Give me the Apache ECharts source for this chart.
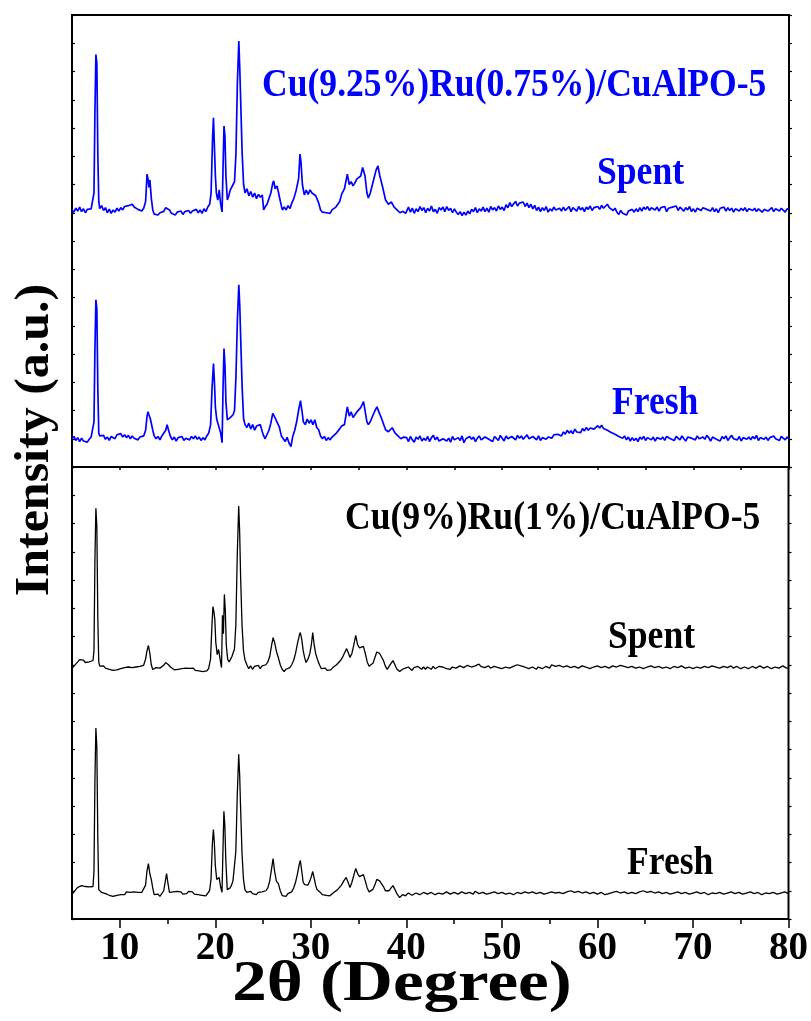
<!DOCTYPE html>
<html><head><meta charset="utf-8">
<script src="https://cdn.jsdelivr.net/npm/echarts@6/dist/echarts.min.js"></script>
<style>html,body{margin:0;padding:0;background:#fff}#c{width:811px;height:1021px}</style>
</head><body><div id="c"></div>
<script>
// ---- axis ticks / labels ----
const xMajorTicks = [10, 20, 30, 40, 50, 60, 70, 80];
const xMinorTicks = [15, 25, 35, 45, 55, 65, 75];
const xTickLabels = ['10', '20', '30', '40', '50', '60', '70', '80'];
const xTitle = '2θ (Degree)';
const yTitle = 'Intensity (a.u.)';
const topLabels = ['Cu(9.25%)Ru(0.75%)/CuAlPO-5', 'Spent', 'Fresh'];
const bottomLabels = ['Cu(9%)Ru(1%)/CuAlPO-5', 'Spent', 'Fresh'];
// vertical offsets of each pattern (a.u.)
const offsets = { topSpent: 910, topFresh: 100, botSpent: 890, botFresh: 90 };

// ---- XRD patterns: [2θ, intensity above own baseline (a.u.)] ----
const topSpent = [[5,0],[5.2,-8],[5.4,6],[5.6,-4],[5.8,10],[6,-6],[6.2,4],[6.4,-10],[6.6,2],[6.8,-5],[7,4],[7.2,10],[7.3,60],[7.4,350],[7.5,550],[7.6,520],[7.7,200],[7.8,30],[7.9,5],[8.1,15],[8.3,-2],[8.5,8],[8.7,-10],[8.9,3],[9.1,-12],[9.3,0],[9.5,-8],[9.7,6],[9.9,-4],[10.1,8],[10.3,0],[10.5,12],[10.7,5],[10.9,15],[11.1,8],[11.3,20],[11.5,10],[11.7,14],[11.9,2],[12.1,8],[12.3,-4],[12.5,6],[12.7,30],[12.85,127],[12.95,110],[13.05,80],[13.15,106],[13.3,40],[13.45,0],[13.6,-15],[13.8,-8],[14,-18],[14.2,-10],[14.4,-15],[14.6,-5],[14.8,8],[15,14],[15.2,0],[15.4,-12],[15.6,-6],[15.8,-18],[16,-8],[16.2,-14],[16.4,-4],[16.6,-16],[16.8,-6],[17,-10],[17.2,-2],[17.4,-12],[17.6,-4],[17.8,-8],[18,2],[18.2,-10],[18.4,0],[18.6,-12],[18.8,4],[19,-6],[19.2,10],[19.4,20],[19.55,60],[19.7,250],[19.8,326],[19.9,220],[20,120],[20.1,60],[20.25,35],[20.4,71],[20.55,20],[20.7,-7],[20.8,150],[20.9,297],[21,260],[21.1,120],[21.25,35],[21.4,50],[21.55,70],[21.7,65],[21.85,90],[22,100],[22.15,200],[22.3,450],[22.45,598],[22.55,500],[22.65,380],[22.8,200],[22.95,90],[23.1,60],[23.3,75],[23.5,50],[23.7,65],[23.9,45],[24.1,60],[24.3,40],[24.5,55],[24.7,45],[24.9,53],[25.05,0],[25.2,10],[25.4,20],[25.6,40],[25.8,60],[26,95],[26.1,103],[26.25,75],[26.45,85],[26.6,81],[26.8,30],[27,0],[27.2,10],[27.4,0],[27.6,15],[27.8,5],[28,25],[28.2,40],[28.45,70],[28.7,110],[28.85,198],[28.95,170],[29.1,90],[29.3,53],[29.5,70],[29.7,55],[29.9,71],[30.1,60],[30.3,65],[30.5,50],[30.6,53],[30.8,25],[31,0],[31.2,-8],[31.4,-2],[31.6,-10],[31.8,-4],[32,-12],[32.2,0],[32.4,5],[32.6,10],[32.8,20],[33,30],[33.2,55],[33.5,75],[33.8,127],[34,90],[34.2,100],[34.4,85],[34.6,96],[34.8,110],[35,105],[35.2,120],[35.4,150],[35.5,156],[35.65,120],[35.85,60],[36,42],[36.2,60],[36.5,100],[36.8,140],[37,156],[37.2,120],[37.5,80],[37.8,35],[38.1,20],[38.4,28],[38.7,10],[39,0],[39.3,-10],[39.6,-5],[39.9,-12],
[40,-5],[40.2,10],[40.4,-8],[40.6,6],[40.8,-12],[41,4],[41.2,-6],[41.4,12],[41.6,-2],[41.8,8],
[42,-10],[42.2,6],[42.4,-4],[42.6,14],[42.8,-6],[43,2],[43.2,-12],[43.4,8],[43.6,0],[43.8,10],
[44,-6],[44.2,12],[44.4,-2],[44.6,6],[44.8,-10],[45,4],[45.2,-8],[45.4,-16],[45.6,-6],[45.8,-20],
[46,-8],[46.2,-18],[46.4,-4],[46.6,-14],[46.8,2],[47,-6],[47.2,8],[47.4,-10],[47.6,4],[47.8,-4],
[48,10],[48.2,-6],[48.4,6],[48.6,-8],[48.8,12],[49,0],[49.2,8],[49.4,-4],[49.6,14],[49.8,2],
[50,10],[50.2,-2],[50.4,18],[50.6,8],[50.8,26],[51,12],[51.2,22],[51.4,30],[51.6,14],[51.8,24],
[52,18],[52.2,28],[52.4,12],[52.6,24],[52.8,8],[53,20],[53.2,4],[53.4,16],[53.6,-2],[53.8,10],
[54,-6],[54.2,8],[54.4,-2],[54.6,12],[54.8,-8],[55,4],[55.2,-4],[55.4,10],[55.6,0],[55.8,-6],
[56,6],[56.2,-4],[56.4,10],[56.6,-2],[56.8,4],[57,12],[57.2,-6],[57.4,8],[57.6,2],[57.8,-4],
[58,12],[58.2,0],[58.4,8],[58.6,-6],[58.8,10],[59,2],[59.2,14],[59.4,-2],[59.6,8],[59.8,4],
[60,12],[60.2,2],[60.4,16],[60.6,6],[60.8,10],[61,20],[61.2,8],[61.4,14],[61.6,-2],[61.8,6],
[62,-8],[62.2,-16],[62.4,-2],[62.6,-12],[62.8,-6],[63,-18],[63.2,-4],[63.4,-10],[63.6,2],[63.8,-8],
[64,4],[64.2,-6],[64.4,8],[64.6,-4],[64.8,10],[65,2],[65.2,12],[65.4,-2],[65.6,8],[65.8,14],
[66,0],[66.2,10],[66.4,-4],[66.6,8],[66.8,2],[67,12],[67.2,-6],[67.4,6],[67.6,0],[67.8,10],
[68,4],[68.2,14],[68.4,-2],[68.6,10],[68.8,6],[69,-4],[69.2,8],[69.4,0],[69.6,12],[69.8,-6],
[70,4],[70.2,-8],[70.4,6],[70.6,10],[70.8,-2],[71,8],[71.2,14],[71.4,2],[71.6,6],[71.8,-4],
[72,8],[72.2,-6],[72.4,4],[72.6,-10],[72.8,6],[73,0],[73.2,10],[73.4,-4],[73.6,8],[73.8,-2],
[74,6],[74.2,-8],[74.4,4],[74.6,10],[74.8,-4],[75,6],[75.2,-2],[75.4,8],[75.6,-6],[75.8,4],
[76,10],[76.2,-2],[76.4,6],[76.6,-6],[76.8,4],[77,8],[77.2,-8],[77.4,2],[77.6,6],[77.8,-4],
[78,-2],[78.2,8],[78.4,-6],[78.6,4],[78.8,10],[79,-4],[79.2,6],[79.4,0],[79.6,-8],[79.8,4],[80,2]];

const topFresh = [[5,0],[5.2,8],[5.4,-6],[5.6,4],[5.8,-10],[6,2],[6.2,-8],[6.4,-4],[6.6,-12],[6.8,-2],[7,6],[7.2,10],[7.3,60],[7.4,320],[7.5,492],[7.6,460],[7.7,180],[7.8,20],[7.9,10],[8.1,4],[8.3,12],[8.5,-2],[8.7,6],[8.9,-6],[9.1,8],[9.3,10],[9.5,0],[9.7,14],[9.9,8],[10.1,18],[10.3,6],[10.5,14],[10.7,4],[10.9,12],[11.1,0],[11.3,10],[11.5,2],[11.7,8],[11.9,-4],[12.1,6],[12.3,0],[12.5,10],[12.7,30],[12.85,80],[12.95,96],[13.05,85],[13.2,70],[13.3,67],[13.45,30],[13.6,10],[13.8,0],[14,8],[14.2,-4],[14.4,10],[14.6,6],[14.8,30],[14.95,50],[15.1,30],[15.3,8],[15.5,-4],[15.7,6],[15.9,-8],[16.1,4],[16.3,-2],[16.5,8],[16.7,-6],[16.9,2],[17.1,6],[17.3,-4],[17.5,8],[17.7,0],[17.9,10],[18.1,-2],[18.3,6],[18.5,-6],[18.7,4],[18.9,-4],[19.1,10],[19.3,20],[19.5,50],[19.65,180],[19.8,266],[19.9,200],[20,110],[20.15,67],[20.3,50],[20.4,57],[20.55,20],[20.7,-14],[20.8,180],[20.9,319],[21,260],[21.1,130],[21.25,67],[21.4,60],[21.55,75],[21.7,70],[21.85,85],[22,100],[22.15,220],[22.3,420],[22.45,545],[22.55,470],[22.65,350],[22.8,180],[22.95,70],[23.1,50],[23.3,40],[23.5,55],[23.7,35],[23.9,50],[24.1,30],[24.3,45],[24.5,40],[24.7,50],[24.9,25],[25.05,10],[25.2,0],[25.4,15],[25.6,30],[25.8,55],[26,90],[26.1,96],[26.3,70],[26.5,67],[26.7,40],[26.9,10],[27.1,0],[27.3,-10],[27.5,5],[27.7,-15],[27.9,-28],[28.1,10],[28.3,30],[28.5,60],[28.7,100],[28.9,135],[29.05,100],[29.2,60],[29.4,50],[29.6,70],[29.8,55],[30,67],[30.2,50],[30.4,67],[30.6,40],[30.8,32],[31,10],[31.2,0],[31.4,8],[31.6,-6],[31.8,4],[32,-4],[32.2,6],[32.4,10],[32.6,18],[32.8,25],[33,35],[33.2,45],[33.5,50],[33.8,113],[34,80],[34.2,95],[34.4,75],[34.6,85],[34.8,95],[35,90],[35.2,110],[35.5,131],[35.7,90],[35.85,60],[36,50],[36.2,60],[36.5,85],[36.7,100],[36.9,113],[37.1,95],[37.4,70],[37.8,32],[38.1,25],[38.5,39],[38.8,20],[39.1,10],[39.4,0],[39.7,6],
[40,4],[40.2,-10],[40.4,8],[40.6,-4],[40.8,-12],[41,6],[41.2,-2],[41.4,10],[41.6,-8],[41.8,2],
[42,-6],[42.2,8],[42.4,-10],[42.6,4],[42.8,12],[43,-4],[43.2,6],[43.4,-8],[43.6,-14],[43.8,0],
[44,6],[44.2,-8],[44.4,2],[44.6,-12],[44.8,8],[45,-4],[45.2,-10],[45.4,4],[45.6,-6],[45.8,10],
[46,-14],[46.2,0],[46.4,-6],[46.6,8],[46.8,-2],[47,6],[47.2,-10],[47.4,2],[47.6,10],[47.8,-4],
[48,-8],[48.2,6],[48.4,10],[48.6,-2],[48.8,4],[49,-10],[49.2,8],[49.4,2],[49.6,-6],[49.8,12],
[50,2],[50.2,-8],[50.4,10],[50.6,0],[50.8,-6],[51,8],[51.2,4],[51.4,-4],[51.6,12],[51.8,2],
[52,10],[52.2,-2],[52.4,6],[52.6,14],[52.8,0],[53,-6],[53.2,8],[53.4,2],[53.6,-4],[53.8,10],
[54,-6],[54.2,4],[54.4,10],[54.6,-2],[54.8,6],[55,12],[55.2,2],[55.4,14],[55.6,8],[55.8,16],
[56,20],[56.2,10],[56.4,24],[56.6,16],[56.8,30],[57,20],[57.2,28],[57.4,18],[57.6,34],[57.8,24],
[58,30],[58.2,22],[58.4,36],[58.6,28],[58.8,40],[59,30],[59.2,38],[59.4,44],[59.6,34],[59.8,40],
[60,46],[60.2,38],[60.4,48],[60.6,36],[60.8,42],[61,30],[61.2,34],[61.4,22],[61.6,28],[61.8,16],
[62,20],[62.2,8],[62.4,14],[62.6,2],[62.8,10],[63,-4],[63.2,6],[63.4,-8],[63.6,4],[63.8,-6],
[64,2],[64.2,-10],[64.4,6],[64.6,-2],[64.8,8],[65,-6],[65.2,4],[65.4,10],[65.6,-4],[65.8,6],
[66,-8],[66.2,4],[66.4,10],[66.6,-2],[66.8,6],[67,-6],[67.2,8],[67.4,14],[67.6,0],[67.8,6],
[68,-6],[68.2,8],[68.4,2],[68.6,-4],[68.8,10],[69,0],[69.2,-8],[69.4,6],[69.6,12],[69.8,2],
[70,8],[70.2,-4],[70.4,10],[70.6,0],[70.8,-6],[71,6],[71.2,-2],[71.4,12],[71.6,4],[71.8,-8],
[72,6],[72.2,12],[72.4,-2],[72.6,4],[72.8,-8],[73,8],[73.2,0],[73.4,10],[73.6,-6],[73.8,4],
[74,12],[74.2,0],[74.4,6],[74.6,-4],[74.8,8],[75,-8],[75.2,4],[75.4,10],[75.6,-2],[75.8,6],
[76,-4],[76.2,8],[76.4,0],[76.6,12],[76.8,-6],[77,4],[77.2,8],[77.4,-2],[77.6,6],[77.8,-6],
[78,4],[78.2,-2],[78.4,10],[78.6,0],[78.8,6],[79,-6],[79.2,8],[79.4,2],[79.6,-4],[79.8,6],[80,-2]];

const botSpent = [[5,-4],[5.2,5],[5.4,12],[5.6,20],[5.8,28],[6,22],[6.2,26],[6.4,18],[6.6,24],[6.8,20],[7,22],[7.2,25],[7.3,60],[7.4,380],[7.5,564],[7.6,500],[7.7,180],[7.8,20],[7.9,5],[8.1,2],[8.3,6],[8.5,-2],[8.7,4],[8.9,-6],[9.1,-4],[9.3,-10],[9.5,-14],[9.7,-8],[9.9,-12],[10.1,-4],[10.3,-8],[10.5,0],[10.7,-6],[10.9,2],[11.1,-4],[11.3,0],[11.5,-6],[11.7,2],[11.9,-2],[12.1,4],[12.3,2],[12.5,8],[12.7,30],[12.85,60],[13,78],[13.15,50],[13.3,10],[13.45,-7],[13.6,-4],[13.8,0],[14,-6],[14.2,-2],[14.4,2],[14.6,8],[14.8,18],[14.95,21],[15.1,10],[15.3,2],[15.5,-2],[15.7,-8],[15.9,-2],[16.1,-6],[16.3,0],[16.5,-4],[16.7,-10],[16.9,-2],[17.1,-6],[17.3,-3],[17.5,-8],[17.7,-2],[17.9,-10],[18.1,-4],[18.3,-12],[18.5,-6],[18.7,-14],[18.9,-8],[19.1,-12],[19.3,-4],[19.5,30],[19.65,150],[19.75,216],[19.85,199],[19.95,170],[20.05,90],[20.2,46],[20.35,64],[20.5,30],[20.65,0],[20.75,185],[20.85,120],[20.95,259],[21.05,200],[21.15,80],[21.3,28],[21.45,20],[21.6,30],[21.75,40],[21.9,55],[22,64],[22.15,150],[22.3,400],[22.45,572],[22.55,480],[22.65,320],[22.8,150],[22.95,60],[23.1,28],[23.3,10],[23.5,-4],[23.7,6],[23.9,-6],[24.1,4],[24.3,-2],[24.5,8],[24.7,-4],[24.9,6],[25.1,2],[25.3,10],[25.5,20],[25.7,40],[25.9,80],[26.05,106],[26.2,90],[26.4,57],[26.6,35],[26.8,10],[27,-6],[27.2,-14],[27.4,-6],[27.6,-10],[27.8,0],[28,10],[28.2,25],[28.4,50],[28.6,85],[28.8,115],[28.9,124],[29.05,100],[29.2,60],[29.35,35],[29.5,18],[29.7,30],[29.9,50],[30.05,80],[30.2,124],[30.35,80],[30.5,50],[30.7,28],[30.9,10],[31.1,-4],[31.3,-8],[31.5,-2],[31.7,-10],[31.9,-4],[32.1,-8],[32.3,0],[32.5,4],[32.7,10],[32.9,15],[33.1,25],[33.3,35],[33.5,50],[33.75,67],[33.95,50],[34.1,36],[34.3,50],[34.5,80],[34.7,114],[34.9,80],[35.1,70],[35.3,68],[35.5,75],[35.7,50],[35.9,20],[36.1,5],[36.3,0],[36.5,15],[36.7,35],[36.9,55],[37.05,57],[37.2,50],[37.4,46],[37.6,25],[37.8,5],[38,-7],[38.2,5],[38.4,15],[38.6,25],[38.8,10],[39,-5],[39.3,-14],[39.6,-6],[39.9,-2],
[40,-8],[40.2,2],[40.4,-4],[40.6,-10],[40.8,0],[41,-4],[41.2,4],[41.4,-2],[41.6,-6],[41.8,2],
[42,-6],[42.2,2],[42.4,0],[42.6,-6],[42.8,4],[43,-4],[43.2,-2],[43.4,4],[43.6,8],[43.8,2],
[44,2],[44.2,-4],[44.4,0],[44.6,-6],[44.8,2],[45,4],[45.2,-2],[45.4,2],[45.6,6],[45.8,0],
[46,0],[46.2,6],[46.4,8],[46.6,2],[46.8,2],[47,6],[47.2,6],[47.4,10],[47.6,12],[47.8,4],
[48,4],[48.2,0],[48.4,2],[48.6,6],[48.8,-2],[49,4],[49.2,4],[49.4,-2],[49.6,0],[49.8,6],
[50,-4],[50.2,2],[50.4,2],[50.6,-4],[50.8,-2],[51,4],[51.2,4],[51.4,8],[51.6,10],[51.8,4],
[52,6],[52.2,0],[52.4,2],[52.6,6],[52.8,-4],[53,2],[53.2,2],[53.4,-4],[53.6,-6],[53.8,2],
[54,0],[54.2,-4],[54.4,-2],[54.6,4],[54.8,4],[55,-2],[55.2,10],[55.4,4],[55.6,4],[55.8,8],
[56,8],[56.2,2],[56.4,2],[56.6,6],[56.8,6],[57,0],[57.2,0],[57.4,6],[57.6,4],[57.8,-2],
[58,-2],[58.2,4],[58.4,6],[58.6,0],[58.8,2],[59,6],[59.2,-4],[59.4,2],[59.6,2],[59.8,-2],
[60,6],[60.2,0],[60.4,0],[60.6,4],[60.8,4],[61,-2],[61.2,-2],[61.4,4],[61.6,6],[61.8,0],
[62,2],[62.2,6],[62.4,8],[62.6,2],[62.8,4],[63,-2],[63.2,0],[63.4,6],[63.6,4],[63.8,-2],
[64,-2],[64.2,4],[64.4,2],[64.6,-4],[64.8,-4],[65,2],[65.2,2],[65.4,-2],[65.6,6],[65.8,2],
[66,0],[66.2,4],[66.4,4],[66.6,-2],[66.8,-2],[67,4],[67.2,2],[67.4,-4],[67.6,-4],[67.8,2],
[68,4],[68.2,-2],[68.4,0],[68.6,4],[68.8,6],[69,0],[69.2,-2],[69.4,4],[69.6,2],[69.8,-4],
[70,-4],[70.2,2],[70.4,2],[70.6,-4],[70.8,-2],[71,4],[71.2,4],[71.4,-2],[71.6,0],[71.8,6],
[72,6],[72.2,0],[72.4,2],[72.6,-4],[72.8,-2],[73,4],[73.2,4],[73.4,-2],[73.6,0],[73.8,6],
[74,6],[74.2,-2],[74.4,-2],[74.6,4],[74.8,2],[75,-4],[75.2,-4],[75.4,2],[75.6,2],[75.8,-4],
[76,-2],[76.2,4],[76.4,4],[76.6,-2],[76.8,0],[77,6],[77.2,4],[77.4,-2],[77.6,-2],[77.8,4],
[78,2],[78.2,-4],[78.4,-4],[78.6,2],[78.8,2],[79,-2],[79.2,0],[79.4,6],[79.6,4],[79.8,-2],[80,-2]];

const botFresh = [[5,-4],[5.2,6],[5.4,14],[5.6,22],[5.8,26],[6,28],[6.2,22],[6.4,25],[6.6,18],[6.8,24],[7,20],[7.2,25],[7.3,80],[7.4,400],[7.5,586],[7.6,520],[7.7,200],[7.8,14],[7.9,8],[8.1,4],[8.3,8],[8.5,0],[8.7,4],[8.9,-6],[9.1,-2],[9.3,-10],[9.5,-14],[9.7,-6],[9.9,-10],[10.1,-4],[10.3,2],[10.5,-4],[10.7,6],[10.9,0],[11.1,4],[11.3,-2],[11.5,6],[11.7,0],[11.9,4],[12.1,-2],[12.3,4],[12.5,8],[12.7,30],[12.85,80],[13,106],[13.15,70],[13.3,50],[13.45,20],[13.6,-4],[13.8,-8],[14,-2],[14.2,-10],[14.4,-4],[14.6,10],[14.75,40],[14.9,71],[15.05,35],[15.2,4],[15.4,-2],[15.6,6],[15.8,0],[16,8],[16.2,2],[16.4,6],[16.6,-2],[16.8,4],[17,0],[17.2,8],[17.4,2],[17.6,6],[17.8,-2],[18,4],[18.2,-4],[18.4,2],[18.6,-6],[18.8,0],[19,-8],[19.2,-2],[19.4,10],[19.55,50],[19.7,180],[19.8,227],[19.9,180],[20,100],[20.15,50],[20.3,55],[20.4,57],[20.55,25],[20.7,4],[20.8,150],[20.9,291],[21,240],[21.1,120],[21.25,14],[21.4,10],[21.55,20],[21.7,30],[21.85,45],[22,50],[22.15,150],[22.3,350],[22.45,493],[22.55,420],[22.65,300],[22.8,140],[22.95,50],[23.1,14],[23.3,4],[23.5,-2],[23.7,8],[23.9,0],[24.1,6],[24.3,-4],[24.5,4],[24.7,-2],[24.9,6],[25.1,2],[25.3,10],[25.5,20],[25.7,45],[25.9,90],[26.05,124],[26.2,80],[26.4,43],[26.6,35],[26.8,10],[27,-7],[27.2,-2],[27.4,-10],[27.6,0],[27.8,-4],[28,6],[28.2,20],[28.4,40],[28.6,70],[28.8,105],[28.9,117],[29.05,80],[29.2,40],[29.35,32],[29.5,35],[29.7,30],[29.9,45],[30.05,60],[30.2,78],[30.35,55],[30.5,30],[30.65,14],[30.8,20],[31,4],[31.2,-4],[31.4,2],[31.6,-6],[31.8,0],[32,-8],[32.2,-2],[32.4,4],[32.6,8],[32.8,14],[33,20],[33.2,30],[33.45,45],[33.7,57],[33.9,40],[34.1,21],[34.3,40],[34.5,65],[34.7,89],[34.9,70],[35.1,60],[35.3,62],[35.5,67],[35.7,45],[35.9,20],[36.1,6],[36.3,4],[36.5,15],[36.7,30],[36.9,50],[37,53],[37.2,45],[37.4,39],[37.6,25],[37.8,10],[38,7],[38.2,10],[38.4,20],[38.6,28],[38.8,15],[39,0],[39.3,-14],[39.6,-4],[39.9,-8],
[40,-6],[40.2,2],[40.4,0],[40.6,-6],[40.8,-8],[41,2],[41.2,2],[41.4,-4],[41.6,-4],[41.8,4],
[42,4],[42.2,-2],[42.4,-2],[42.6,4],[42.8,2],[43,-4],[43.2,-6],[43.4,2],[43.6,4],[43.8,-2],
[44,0],[44.2,6],[44.4,6],[44.6,-2],[44.8,-2],[45,4],[45.2,4],[45.4,-2],[45.6,0],[45.8,6],
[46,6],[46.2,0],[46.4,-4],[46.6,4],[46.8,2],[47,-2],[47.2,8],[47.4,2],[47.6,0],[47.8,4],
[48,4],[48.2,-2],[48.4,-2],[48.6,4],[48.8,2],[49,-2],[49.2,6],[49.4,0],[49.6,0],[49.8,6],
[50,4],[50.2,-2],[50.4,-2],[50.6,4],[50.8,2],[51,-4],[51.2,-4],[51.4,2],[51.6,4],[51.8,-2],
[52,0],[52.2,4],[52.4,6],[52.6,0],[52.8,2],[53,6],[53.2,6],[53.4,0],[53.6,0],[53.8,4],
[54,4],[54.2,-2],[54.4,-2],[54.6,4],[54.8,2],[55,-2],[55.2,6],[55.4,2],[55.6,2],[55.8,6],
[56,4],[56.2,0],[56.4,0],[56.6,6],[56.8,6],[57,0],[57.2,10],[57.4,4],[57.6,4],[57.8,10],
[58,8],[58.2,2],[58.4,2],[58.6,6],[58.8,6],[59,0],[59.2,0],[59.4,6],[59.6,4],[59.8,-2],
[60,-2],[60.2,4],[60.4,4],[60.6,-2],[60.8,-4],[61,2],[61.2,0],[61.4,-4],[61.6,4],[61.8,0],
[62,8],[62.2,2],[62.4,2],[62.6,6],[62.8,6],[63,0],[63.2,0],[63.4,6],[63.6,4],[63.8,-2],
[64,0],[64.2,6],[64.4,6],[64.6,2],[64.8,10],[65,4],[65.2,4],[65.4,10],[65.6,8],[65.8,2],
[66,2],[66.2,6],[66.4,6],[66.6,0],[66.8,0],[67,6],[67.2,4],[67.4,-2],[67.6,-2],[67.8,4],
[68,2],[68.2,-2],[68.4,6],[68.6,0],[68.8,0],[69,6],[69.2,4],[69.4,-2],[69.6,-2],[69.8,4],
[70,2],[70.2,-2],[70.4,6],[70.6,0],[70.8,0],[71,6],[71.2,4],[71.4,-2],[71.6,-4],[71.8,2],
[72,2],[72.2,-4],[72.4,0],[72.6,4],[72.8,4],[73,-2],[73.2,-2],[73.4,4],[73.6,2],[73.8,-4],
[74,6],[74.2,0],[74.4,0],[74.6,6],[74.8,4],[75,-2],[75.2,-2],[75.4,4],[75.6,2],[75.8,-4],
[76,6],[76.2,0],[76.4,0],[76.6,6],[76.8,4],[77,-2],[77.2,-4],[77.4,2],[77.6,2],[77.8,-4],
[78,0],[78.2,4],[78.4,4],[78.6,-2],[78.8,-2],[79,4],[79.2,2],[79.4,-4],[79.6,6],[79.8,0],[80,0]];

// ---- build chart ----
const FONT = "'Liberation Serif', 'Times New Roman', serif";
const BLUE = '#0000FF';
const shift = (arr, off) => arr.map(p => [p[0], p[1] + off]);

const G = [{ left: 72, top: 15, width: 717, height: 452 },
           { left: 72, top: 467, width: 717, height: 452 }];

function xAx(grid, pos, ticks, len, inside, labels) {
  return {
    type: 'value', gridIndex: grid, position: pos, min: 5, max: 80,
    axisLine: { show: false },
    splitLine: { show: false },
    axisTick: { show: true, customValues: ticks, length: len, inside: inside,
                lineStyle: { color: '#000', width: 1.5 } },
    axisLabel: labels ? {
      show: true, customValues: xMajorTicks, margin: 10,
      formatter: v => xTickLabels[xMajorTicks.indexOf(v)] || '',
      color: '#000', fontFamily: FONT, fontWeight: 'bold', fontSize: 39
    } : { show: false }
  };
}
function yAx(grid, pos, inside) {
  return {
    type: 'value', gridIndex: grid, position: pos, min: 0, max: 1600, interval: 100,
    axisLine: { show: false }, splitLine: { show: false },
    axisLabel: { show: false },
    axisTick: { show: true, length: 3, inside: inside, lineStyle: { color: '#000', width: 1.2 } }
  };
}

const option = {
  animation: false,
  backgroundColor: '#fff',
  grid: G.map(g => Object.assign({ show: true, borderColor: '#000', borderWidth: 2,
                                   backgroundColor: 'transparent', containLabel: false }, g)),
  xAxis: [
    xAx(0, 'bottom', xMajorTicks.concat(xMinorTicks), 3, false, false),
    xAx(0, 'top', xMajorTicks.concat(xMinorTicks), 3, true, false),
    xAx(1, 'bottom', xMajorTicks, 9, false, true),
    xAx(1, 'bottom', xMinorTicks, 5, false, false)
  ],
  yAxis: [yAx(0, 'left', true), yAx(0, 'right', false), yAx(1, 'left', true), yAx(1, 'right', false)],
  series: [
    { type: 'line', xAxisIndex: 0, yAxisIndex: 0, data: shift(topSpent, offsets.topSpent) },
    { type: 'line', xAxisIndex: 0, yAxisIndex: 0, data: shift(topFresh, offsets.topFresh) },
    { type: 'line', xAxisIndex: 2, yAxisIndex: 2, data: shift(botSpent, offsets.botSpent) },
    { type: 'line', xAxisIndex: 2, yAxisIndex: 2, data: shift(botFresh, offsets.botFresh) }
  ].map((s, i) => Object.assign(s, {
    showSymbol: false, symbol: 'none', silent: true,
    lineStyle: { color: i < 2 ? BLUE : '#000', width: i < 2 ? 1.7 : 1.3 }
  })),
  graphic: [
    { type: 'text', x: 262, y: 86, scaleX: 0.89, style: { text: topLabels[0], fill: BLUE, font: `bold 40px ${FONT}`, textAlign: 'left', textVerticalAlign: 'middle' } },
    { type: 'text', x: 597, y: 174, scaleX: 0.89, style: { text: topLabels[1], fill: BLUE, font: `bold 40px ${FONT}`, textAlign: 'left', textVerticalAlign: 'middle' } },
    { type: 'text', x: 612, y: 404, scaleX: 0.89, style: { text: topLabels[2], fill: BLUE, font: `bold 40px ${FONT}`, textAlign: 'left', textVerticalAlign: 'middle' } },
    { type: 'text', x: 345, y: 519, scaleX: 0.89, style: { text: bottomLabels[0], fill: '#000', font: `bold 40px ${FONT}`, textAlign: 'left', textVerticalAlign: 'middle' } },
    { type: 'text', x: 608, y: 638, scaleX: 0.89, style: { text: bottomLabels[1], fill: '#000', font: `bold 40px ${FONT}`, textAlign: 'left', textVerticalAlign: 'middle' } },
    { type: 'text', x: 627, y: 864, scaleX: 0.89, style: { text: bottomLabels[2], fill: '#000', font: `bold 40px ${FONT}`, textAlign: 'left', textVerticalAlign: 'middle' } },
    { type: 'text', x: 402, y: 985, scaleX: 1.19, style: { text: xTitle, fill: '#000', font: `bold 58px ${FONT}`, textAlign: 'center', textVerticalAlign: 'middle' } },
    { type: 'text', x: 36, y: 440, rotation: Math.PI / 2, scaleY: 0.95, style: { text: yTitle, fill: '#000', font: `bold 50px ${FONT}`, textAlign: 'center', textVerticalAlign: 'middle' } }
  ]
};

const chart = echarts.init(document.getElementById('c'), null, { renderer: 'canvas' });
chart.setOption(option);
</script>
</body></html>
